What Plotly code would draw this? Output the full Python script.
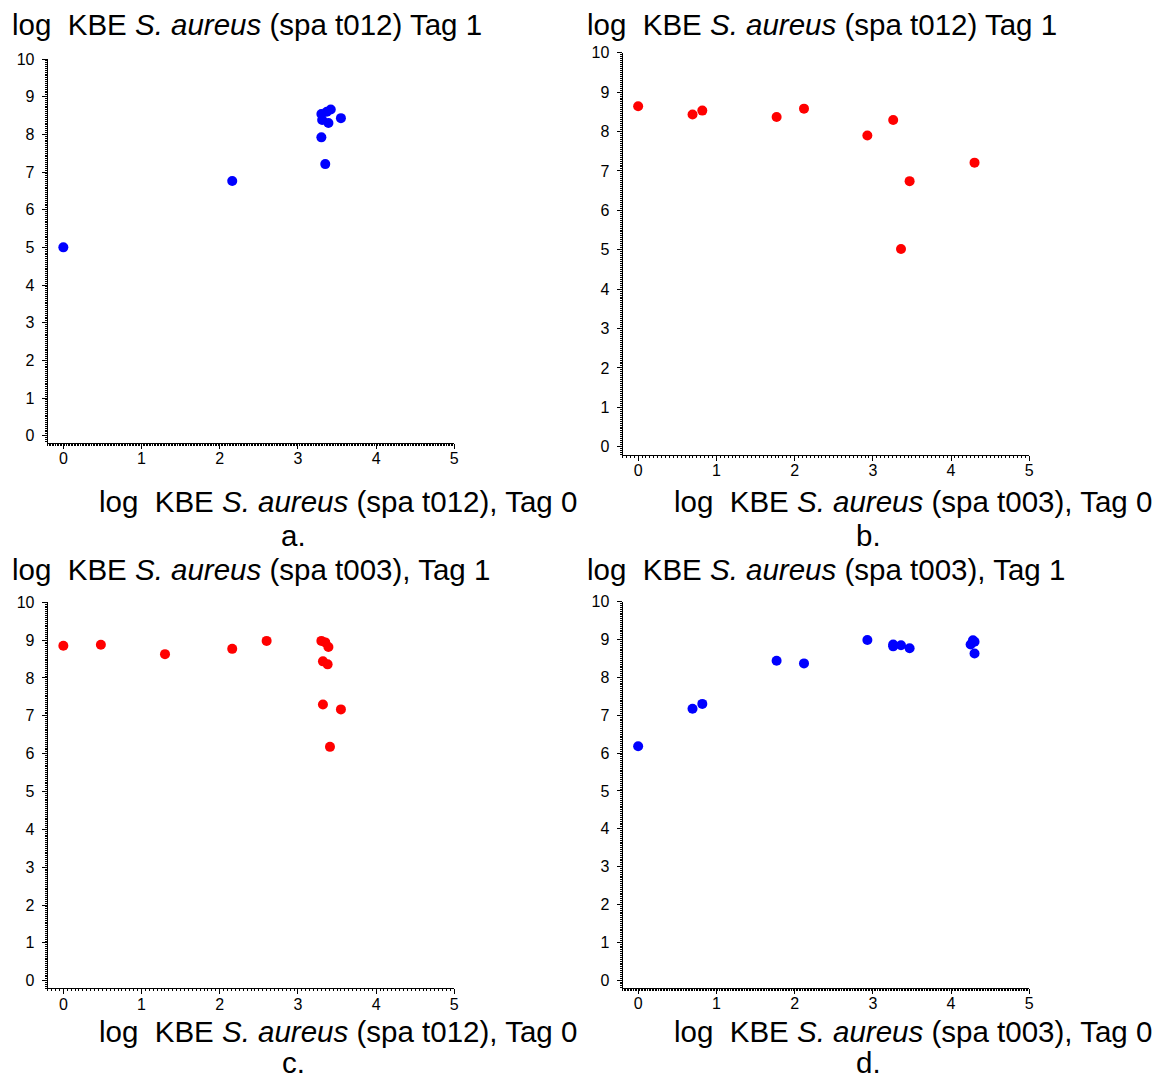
import plotly.graph_objects as go

W, H = 1162, 1080

# Panel a: t012 Tag 0 vs t012 Tag 1
a_x = [0.0, 2.16, 3.30, 3.35, 3.30, 3.31, 3.39, 3.37, 3.42, 3.55]
a_y = [5.00, 6.76, 7.92, 7.21, 8.54, 8.38, 8.30, 8.60, 8.66, 8.43]

# Panel b: t003 Tag 0 vs t012 Tag 1
b_x = [0.0, 0.695, 0.82, 1.77, 2.12, 2.93, 3.26, 3.36, 3.47, 4.30]
b_y = [8.64, 8.43, 8.53, 8.37, 8.58, 7.90, 8.29, 5.02, 6.74, 7.21]

# Panel c: t012 Tag 0 vs t003 Tag 1
c_x = [0.0, 0.48, 1.30, 2.16, 2.60, 3.30, 3.35, 3.39, 3.32, 3.38, 3.32, 3.55, 3.41]
c_y = [8.85, 8.88, 8.63, 8.77, 8.98, 8.98, 8.94, 8.82, 8.44, 8.36, 7.30, 7.17, 6.18]

# Panel d: t003 Tag 0 vs t003 Tag 1
d_x = [0.0, 0.695, 0.82, 1.77, 2.12, 2.93, 3.26, 3.26, 3.36, 3.47, 4.25, 4.28, 4.30, 4.30]
d_y = [6.18, 7.17, 7.30, 8.44, 8.37, 8.99, 8.87, 8.82, 8.85, 8.77, 8.87, 8.98, 8.94, 8.63]

tick_vals = [0, 1, 2, 3, 4, 5, 6, 7, 8, 9, 10]
x_tick_vals = [0, 1, 2, 3, 4, 5]

SP = "\u00a0\u00a0"
titles = ["log" + SP + "KBE <i>S. aureus</i> (spa t012) Tag 1",
          "log" + SP + "KBE <i>S. aureus</i> (spa t012) Tag 1",
          "log" + SP + "KBE <i>S. aureus</i> (spa t003), Tag 1",
          "log" + SP + "KBE <i>S. aureus</i> (spa t003), Tag 1"]
xlabels = ["log" + SP + "KBE <i>S. aureus</i> (spa t012), Tag 0",
           "log" + SP + "KBE <i>S. aureus</i> (spa t003), Tag 0",
           "log" + SP + "KBE <i>S. aureus</i> (spa t012), Tag 0",
           "log" + SP + "KBE <i>S. aureus</i> (spa t003), Tag 0"]
letters = ["a.", "b.", "c.", "d."]

BLUE = "#0000ff"
RED = "#ff0000"
series = [(a_x, a_y, BLUE), (b_x, b_y, RED), (c_x, c_y, RED), (d_x, d_y, BLUE)]

# pixel geometry of each panel: (x_left, x_right, y_top(at 10), y_bottom(axis), yrange_min, x_minor)
geo = [
    (47.7, 454.3, 59.0, 442.9, -0.19, 0.02),
    (622.5, 1029.3, 52.7, 455.0, -0.21, 0.05),
    (47.7, 454.3, 602.3, 988.3, -0.20, 0.05),
    (622.5, 1029.3, 601.7, 987.7, -0.20, 0.02),
]
title_pos = [(10, 25), (585, 25), (10, 569), (585, 569)]
xlabel_pos = [(338, 501), (913, 501), (338, 1031), (913, 1031)]
letter_pos = [(293, 535), (868, 535), (293, None), (868, None)]

FONT = "Liberation Sans, Arial, sans-serif"
TXT = 29.5

fig = go.Figure()
layout = dict(
    width=W, height=H,
    margin=dict(l=0, r=0, t=0, b=0, pad=0, autoexpand=False),
    paper_bgcolor="white", plot_bgcolor="white",
    showlegend=False,
    font=dict(family=FONT, color="black"),
    annotations=[],
)

for i, ((xs, ys, col), (xl, xr, yt, yb, ymin, xminor)) in enumerate(zip(series, geo)):
    n = "" if i == 0 else str(i + 1)
    xa, ya = "x" + n, "y" + n
    fig.add_trace(go.Scatter(x=xs, y=ys, mode="markers",
                             marker=dict(size=10, color=col, line=dict(width=0)),
                             xaxis=xa, yaxis=ya))
    common = dict(showgrid=False, zeroline=False, showline=True, linecolor="black",
                  linewidth=1, ticks="outside", ticklen=5, tickwidth=1, tickcolor="black",
                  automargin=False,
                  tickfont=dict(size=16, family=FONT, color="black"))
    layout["xaxis" + n] = dict(
        domain=[xl / W, xr / W], range=[-0.2, 5], anchor=ya,
        tickvals=x_tick_vals, ticktext=[str(v) for v in x_tick_vals],
        ticklabelstandoff=-4,
        minor=dict(dtick=xminor, tick0=0, ticks="outside", ticklen=2, tickcolor="black", tickwidth=1),
        **common)
    layout["yaxis" + n] = dict(
        domain=[1 - yb / H, 1 - yt / H], range=[ymin, 10], anchor=xa,
        tickvals=tick_vals, ticktext=[str(v) for v in tick_vals],
        ticklabelstandoff=4,
        minor=dict(dtick=0.05, tick0=0, ticks="outside", ticklen=2, tickcolor="black", tickwidth=1),
        **common)
    tx, ty = title_pos[i]
    layout["annotations"].append(dict(text=titles[i], x=tx / W, y=1 - ty / H, xref="paper", yref="paper",
                                      xanchor="left", yanchor="middle", showarrow=False,
                                      font=dict(size=TXT, family=FONT, color="black")))
    lx, ly = xlabel_pos[i]
    layout["annotations"].append(dict(text=xlabels[i], x=lx / W, y=1 - ly / H, xref="paper", yref="paper",
                                      xanchor="center", yanchor="middle", showarrow=False,
                                      borderpad=0,
                                      font=dict(size=TXT, family=FONT, color="black")))
    px_, py_ = letter_pos[i]
    if py_ is None:
        layout["annotations"].append(dict(text=letters[i], x=px_ / W, y=0, xref="paper", yref="paper",
                                          xanchor="center", yanchor="bottom", showarrow=False,
                                          borderpad=0,
                                          font=dict(size=TXT, family=FONT, color="black")))
    else:
        layout["annotations"].append(dict(text=letters[i], x=px_ / W, y=1 - py_ / H, xref="paper", yref="paper",
                                          xanchor="center", yanchor="middle", showarrow=False,
                                          borderpad=0,
                                          font=dict(size=TXT, family=FONT, color="black")))

fig.update_layout(**layout)
fig.write_html("out.html")
